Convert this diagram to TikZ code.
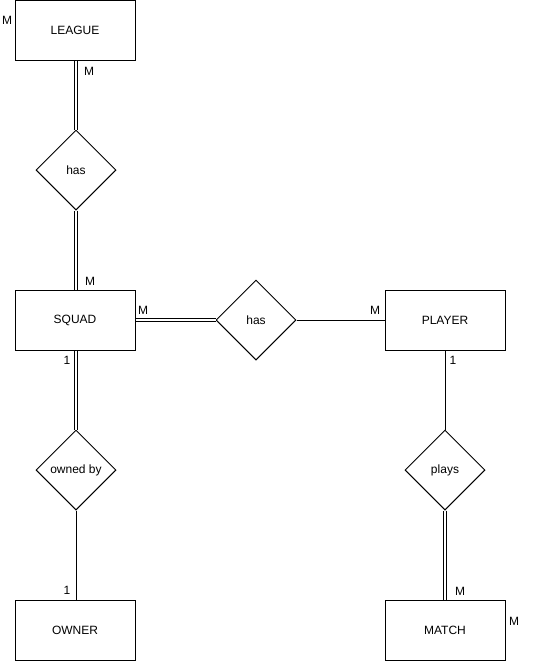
\documentclass[tikz,border=0pt]{standalone}
\usepackage{fontspec}
\setmainfont{Liberation Sans}
\usetikzlibrary{shapes.geometric}

\tikzset{
  entity/.style={draw, line width=1pt, minimum width=120pt, minimum height=60pt, inner sep=0pt, font=\fontsize{12}{14}\selectfont},
  rel/.style={draw, diamond, line width=1pt, minimum width=80pt, minimum height=80pt, inner sep=0pt, font=\fontsize{12}{14}\selectfont},
  dbl/.style={line width=1pt, double, double distance=2pt},
  sgl/.style={line width=1pt},
  card/.style={font=\fontsize{12}{14}\selectfont, inner sep=0pt}
}

\begin{document}
\begin{tikzpicture}[x=1pt, y=-1pt]
    \useasboundingbox (0,0) rectangle (539,664);
    % entities
    \node[entity] (league) at (75,30) {LEAGUE};
    \node[entity] (squad) at (75,320) {SQUAD};
    \node[entity] (owner) at (75,630) {OWNER};
    \node[entity] (player) at (445,320) {PLAYER};
    \node[entity] (match) at (445,630) {MATCH};
    % relationships
    \node[rel] (hasleague) at (76,170) {has};
    \node[rel] (hasplayer) at (256,320) {has};
    \node[rel] (ownedby) at (76,470) {owned by};
    \node[rel] (plays) at (445,470) {plays};
    % connectors
    \draw[dbl] (league.south -| hasleague) -- (hasleague.north);
    \draw[dbl] (hasleague.south) -- (squad.north -| hasleague);
    \draw[dbl] (squad.east) -- (hasplayer.west);
    \draw[sgl] (hasplayer.east) -- (player.west);
    \draw[dbl] (squad.south -| ownedby) -- (ownedby.north);
    \draw[sgl] (ownedby.south) -- (owner.north -| ownedby);
    \draw[sgl] (player.south) -- (plays.north);
    \draw[dbl] (plays.south) -- (match.north);
    % cardinalities
    \node[card] (cleague) at (7,20) {M};
    \node[card] (cleaguedown) at (89,71) {M};
    \node[card] (csquadup) at (90,281) {M};
    \node[card] (csquadright) at (143,310) {M};
    \node[card] (cplayerleft) at (375,310) {M};
    \node[card] (csquaddown) at (67,360) {1};
    \node[card] (cplayerdown) at (453,360) {1};
    \node[card] (cowner) at (67,590) {1};
    \node[card] (cmatchup) at (460,591) {M};
    \node[card] (cmatch) at (514,621) {M};
\end{tikzpicture}
\end{document}
